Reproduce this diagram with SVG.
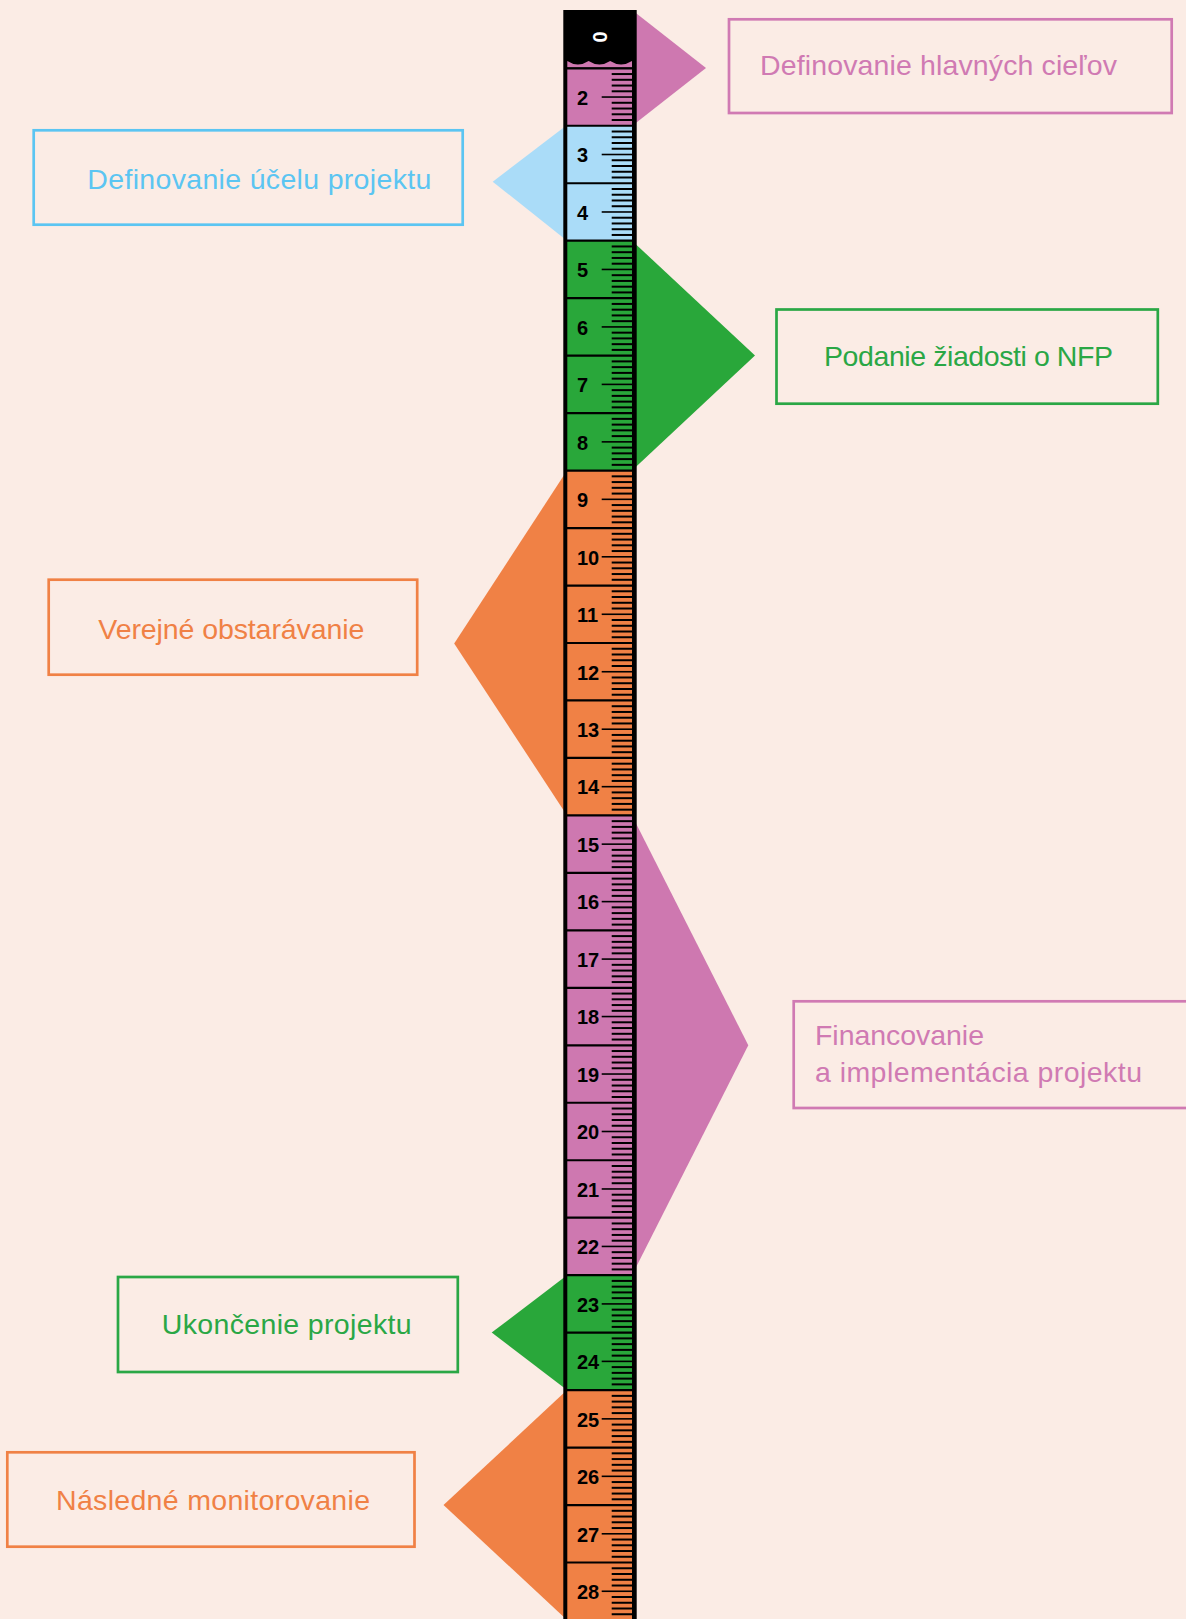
<svg xmlns="http://www.w3.org/2000/svg" width="1186" height="1619" viewBox="0 0 1186 1619">
<style>
.lbl{font-family:"Liberation Sans",Arial,sans-serif;font-size:28.5px}
.num{font-family:"Liberation Sans",Arial,sans-serif;font-size:20px;font-weight:bold;fill:#000}
.box{fill:none;stroke-width:2.7}
.pk{fill:#CE78B0}.bl{fill:#AADCF8}.gr{fill:#29A73A}.or{fill:#F08145}
.pkS{stroke:#D07AB3}.blS{stroke:#5BC5F2}.grS{stroke:#2AA745}.orS{stroke:#F08145}
.pkT{fill:#D07AB3}.blT{fill:#5BC5F2}.grT{fill:#2AA745}.orT{fill:#F08145}
.tick{stroke:#000;stroke-width:2}
.sep{stroke:#000;stroke-width:2.2}
</style>
<defs>
<g id="ticks">
<line class="tick" x1="611.7" y1="5.75" x2="632" y2="5.75"/>
<line class="tick" x1="611.7" y1="11.49" x2="632" y2="11.49"/>
<line class="tick" x1="611.7" y1="17.24" x2="632" y2="17.24"/>
<line class="tick" x1="611.7" y1="22.99" x2="632" y2="22.99"/>
<line class="tick" x1="601.7" y1="28.74" x2="632" y2="28.74" style="stroke-width:1.6"/>
<line class="tick" x1="611.7" y1="34.48" x2="632" y2="34.48"/>
<line class="tick" x1="611.7" y1="40.23" x2="632" y2="40.23"/>
<line class="tick" x1="611.7" y1="45.98" x2="632" y2="45.98"/>
<line class="tick" x1="611.7" y1="51.72" x2="632" y2="51.72"/>
</g>
</defs>
<rect x="0" y="0" width="1186" height="1619" fill="#FBECE5"/>

<g id="connectors">
<polygon class="pk" points="632,10 706,68 632,126"/>
<polygon class="bl" points="567,125 492.7,181.7 567,240.7"/>
<polygon class="gr" points="632,240.7 755,355.6 632,470.6"/>
<polygon class="or" points="567,470.6 454.2,643.5 567,815.4"/>
<polygon class="pk" points="632,815.4 748.3,1045.3 632,1275.2"/>
<polygon class="gr" points="567,1275.2 491.7,1332.6 567,1390.1"/>
<polygon class="or" points="567,1390.1 443.5,1505 567,1620"/>
</g>

<g id="ruler">
<rect x="563.3" y="10" width="73.4" height="1612" fill="#000"/>
<path class="pk" d="M567.3,67.5 L567.3,61 Q577.9,68 588.6,61 Q599.4,68 610.2,61 Q621,68 632,61 L632,67.5 Z"/>
<rect class="pk" x="567.3" y="68.3" width="64.7" height="57.47"/>
<rect class="bl" x="567.3" y="125.77" width="64.7" height="114.94"/>
<rect class="gr" x="567.3" y="240.71" width="64.7" height="229.88"/>
<rect class="or" x="567.3" y="470.59" width="64.7" height="344.82"/>
<rect class="pk" x="567.3" y="815.41" width="64.7" height="459.76"/>
<rect class="gr" x="567.3" y="1275.17" width="64.7" height="114.94"/>
<rect class="or" x="567.3" y="1390.11" width="64.7" height="232"/>
<g>
<line class="sep" x1="565" y1="68.3" x2="634" y2="68.3"/>
<line class="sep" x1="565" y1="125.77" x2="634" y2="125.77"/>
<line class="sep" x1="565" y1="183.24" x2="634" y2="183.24"/>
<line class="sep" x1="565" y1="240.71" x2="634" y2="240.71"/>
<line class="sep" x1="565" y1="298.18" x2="634" y2="298.18"/>
<line class="sep" x1="565" y1="355.65" x2="634" y2="355.65"/>
<line class="sep" x1="565" y1="413.12" x2="634" y2="413.12"/>
<line class="sep" x1="565" y1="470.59" x2="634" y2="470.59"/>
<line class="sep" x1="565" y1="528.06" x2="634" y2="528.06"/>
<line class="sep" x1="565" y1="585.53" x2="634" y2="585.53"/>
<line class="sep" x1="565" y1="643" x2="634" y2="643"/>
<line class="sep" x1="565" y1="700.47" x2="634" y2="700.47"/>
<line class="sep" x1="565" y1="757.94" x2="634" y2="757.94"/>
<line class="sep" x1="565" y1="815.41" x2="634" y2="815.41"/>
<line class="sep" x1="565" y1="872.88" x2="634" y2="872.88"/>
<line class="sep" x1="565" y1="930.35" x2="634" y2="930.35"/>
<line class="sep" x1="565" y1="987.82" x2="634" y2="987.82"/>
<line class="sep" x1="565" y1="1045.29" x2="634" y2="1045.29"/>
<line class="sep" x1="565" y1="1102.76" x2="634" y2="1102.76"/>
<line class="sep" x1="565" y1="1160.23" x2="634" y2="1160.23"/>
<line class="sep" x1="565" y1="1217.7" x2="634" y2="1217.7"/>
<line class="sep" x1="565" y1="1275.17" x2="634" y2="1275.17"/>
<line class="sep" x1="565" y1="1332.64" x2="634" y2="1332.64"/>
<line class="sep" x1="565" y1="1390.11" x2="634" y2="1390.11"/>
<line class="sep" x1="565" y1="1447.58" x2="634" y2="1447.58"/>
<line class="sep" x1="565" y1="1505.05" x2="634" y2="1505.05"/>
<line class="sep" x1="565" y1="1562.52" x2="634" y2="1562.52"/>
</g>
<g>
<use href="#ticks" y="68.3"/>
<use href="#ticks" y="125.77"/>
<use href="#ticks" y="183.24"/>
<use href="#ticks" y="240.71"/>
<use href="#ticks" y="298.18"/>
<use href="#ticks" y="355.65"/>
<use href="#ticks" y="413.12"/>
<use href="#ticks" y="470.59"/>
<use href="#ticks" y="528.06"/>
<use href="#ticks" y="585.53"/>
<use href="#ticks" y="643"/>
<use href="#ticks" y="700.47"/>
<use href="#ticks" y="757.94"/>
<use href="#ticks" y="815.41"/>
<use href="#ticks" y="872.88"/>
<use href="#ticks" y="930.35"/>
<use href="#ticks" y="987.82"/>
<use href="#ticks" y="1045.29"/>
<use href="#ticks" y="1102.76"/>
<use href="#ticks" y="1160.23"/>
<use href="#ticks" y="1217.7"/>
<use href="#ticks" y="1275.17"/>
<use href="#ticks" y="1332.64"/>
<use href="#ticks" y="1390.11"/>
<use href="#ticks" y="1447.58"/>
<use href="#ticks" y="1505.05"/>
<use href="#ticks" y="1562.52"/>
</g>
<text class="num" x="0" y="0" transform="translate(599.5,37) rotate(90)" text-anchor="middle" dominant-baseline="central" style="fill:#fff;font-size:20px">0</text>
<g>
<text class="num" x="577" y="104.8">2</text>
<text class="num" x="577" y="162.3">3</text>
<text class="num" x="577" y="219.7">4</text>
<text class="num" x="577" y="277.2">5</text>
<text class="num" x="577" y="334.7">6</text>
<text class="num" x="577" y="392.2">7</text>
<text class="num" x="577" y="449.6">8</text>
<text class="num" x="577" y="507.1">9</text>
<text class="num" x="577" y="564.6">10</text>
<text class="num" x="577" y="622">11</text>
<text class="num" x="577" y="679.5">12</text>
<text class="num" x="577" y="737">13</text>
<text class="num" x="577" y="794.4">14</text>
<text class="num" x="577" y="851.9">15</text>
<text class="num" x="577" y="909.4">16</text>
<text class="num" x="577" y="966.9">17</text>
<text class="num" x="577" y="1024.3">18</text>
<text class="num" x="577" y="1081.8">19</text>
<text class="num" x="577" y="1139.3">20</text>
<text class="num" x="577" y="1196.7">21</text>
<text class="num" x="577" y="1254.2">22</text>
<text class="num" x="577" y="1311.7">23</text>
<text class="num" x="577" y="1369.1">24</text>
<text class="num" x="577" y="1426.6">25</text>
<text class="num" x="577" y="1484.1">26</text>
<text class="num" x="577" y="1541.6">27</text>
<text class="num" x="577" y="1599">28</text>
</g>
</g>

<g id="node-ciele">
<rect class="box pkS" x="729" y="19.3" width="442.7" height="93.7"/>
<text class="lbl pkT" x="760" y="75" textLength="357" lengthAdjust="spacing">Definovanie hlavných cieľov</text>
</g>
<g id="node-ucel">
<rect class="box blS" x="33.7" y="130.3" width="429" height="94.4"/>
<text class="lbl blT" x="87.3" y="189.3" textLength="344" lengthAdjust="spacing">Definovanie účelu projektu</text>
</g>
<g id="node-nfp">
<rect class="box grS" x="776.5" y="309.5" width="381.3" height="94.2"/>
<text class="lbl grT" x="824" y="366" textLength="289" lengthAdjust="spacing">Podanie žiadosti o NFP</text>
</g>
<g id="node-vo">
<rect class="box orS" x="48.7" y="579.7" width="368.5" height="95"/>
<text class="lbl orT" x="98.3" y="639.3" textLength="266" lengthAdjust="spacing">Verejné obstarávanie</text>
</g>
<g id="node-financovanie">
<rect class="box pkS" x="793.7" y="1001.3" width="420" height="106.7"/>
<text class="lbl pkT" x="815" y="1045" textLength="169" lengthAdjust="spacing">Financovanie</text>
<text class="lbl pkT" x="815" y="1081.7" textLength="327" lengthAdjust="spacing">a implementácia projektu</text>
</g>
<g id="node-ukoncenie">
<rect class="box grS" x="118" y="1277" width="339.8" height="95"/>
<text class="lbl grT" x="161.7" y="1334" textLength="250" lengthAdjust="spacing">Ukončenie projektu</text>
</g>
<g id="node-monitorovanie">
<rect class="box orS" x="7.3" y="1452.3" width="407.2" height="94.4"/>
<text class="lbl orT" x="56" y="1510" textLength="314" lengthAdjust="spacing">Následné monitorovanie</text>
</g>
</svg>
